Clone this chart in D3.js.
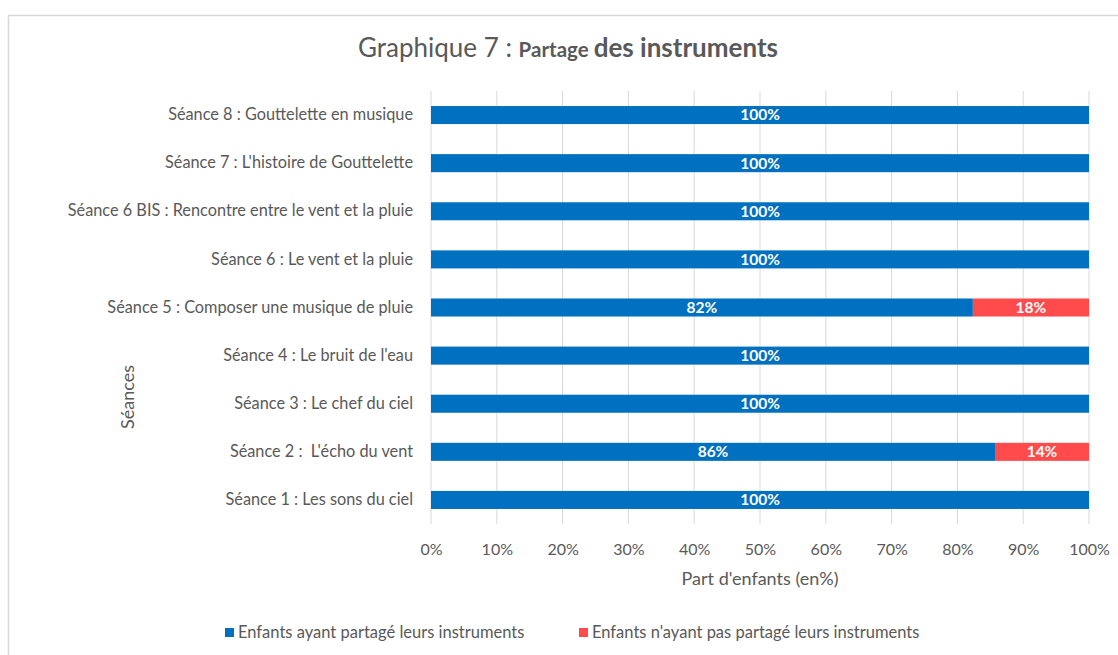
<!DOCTYPE html>
<html>
<head>
<meta charset="utf-8">
<script src="https://cdn.jsdelivr.net/npm/d3@7"></script>
<style>
  body { margin: 0; background: #fff; }
  text { font-family: Lato, Calibri, sans-serif; white-space: pre; }
</style>
</head>
<body>
<div id="chart"></div>
<script>
// données
const seances = [
  "Séance 1 : Les sons du ciel",
  "Séance 2 :  L'écho du vent",
  "Séance 3 : Le chef du ciel",
  "Séance 4 : Le bruit de l'eau",
  "Séance 5 : Composer une musique de pluie",
  "Séance 6 : Le vent et la pluie",
  "Séance 6 BIS : Rencontre entre le vent et la pluie",
  "Séance 7 : L'histoire de Gouttelette",
  "Séance 8 : Gouttelette en musique"
];
const partage = [100, 85.71, 100, 100, 82.35, 100, 100, 100, 100];
const pasPartage = [0, 14.29, 0, 0, 17.65, 0, 0, 0, 0];
const xTicks = [0, 10, 20, 30, 40, 50, 60, 70, 80, 90, 100];
const seriesNames = ["Enfants ayant partagé leurs instruments", "Enfants n'ayant pas partagé leurs instruments"];
const colors = ["#0070C0", "#FF4B4B"];

const W = 1118, H = 655;
const margin = { top: 91, right: 29, bottom: 131, left: 431 };

const svg = d3.select("#chart").append("svg")
  .attr("width", W)
  .attr("height", H);

// cadre
svg.append("rect")
  .attr("x", 8.5).attr("y", 15.5)
  .attr("width", W + 10).attr("height", H + 10)
  .attr("fill", "none")
  .attr("stroke", "#d9d9d9")
  .attr("stroke-width", 1.5);

const x = d3.scaleLinear()
  .domain([0, 100])
  .range([margin.left, W - margin.right]);

const y = d3.scaleBand()
  .domain(seances.slice().reverse())
  .range([margin.top, H - margin.bottom])
  .paddingInner(0.625)
  .paddingOuter(0.3125);

// grille verticale
svg.append("g")
  .selectAll("line")
  .data(xTicks)
  .enter()
  .append("line")
  .attr("x1", d => x(d)).attr("x2", d => x(d))
  .attr("y1", margin.top).attr("y2", H - margin.bottom)
  .attr("stroke", "#d9d9d9")
  .attr("stroke-width", 1);

// barres empilées
const rows = seances.map((s, i) => ({ s: s, a: partage[i], b: pasPartage[i] }));

const g = svg.append("g");
g.selectAll(".barA")
  .data(rows)
  .enter()
  .append("rect")
  .attr("x", x(0))
  .attr("y", d => y(d.s))
  .attr("width", d => x(d.a) - x(0))
  .attr("height", y.bandwidth())
  .attr("fill", colors[0]);

g.selectAll(".barB")
  .data(rows.filter(d => d.b > 0))
  .enter()
  .append("rect")
  .attr("x", d => x(d.a))
  .attr("y", d => y(d.s))
  .attr("width", d => x(d.a + d.b) - x(d.a))
  .attr("height", y.bandwidth())
  .attr("fill", colors[1]);

// étiquettes de données
g.selectAll(".labA")
  .data(rows)
  .enter()
  .append("text")
  .attr("x", d => (x(0) + x(d.a)) / 2)
  .attr("y", d => y(d.s) + y.bandwidth() / 2)
  .attr("dy", "0.35em")
  .attr("text-anchor", "middle")
  .style("font-size", "15.5px")
  .style("font-weight", "bold")
  .style("fill", "white")
  .text(d => Math.round(d.a) + "%");

g.selectAll(".labB")
  .data(rows.filter(d => d.b > 0))
  .enter()
  .append("text")
  .attr("x", d => (x(d.a) + x(d.a + d.b)) / 2)
  .attr("y", d => y(d.s) + y.bandwidth() / 2)
  .attr("dy", "0.35em")
  .attr("text-anchor", "middle")
  .style("font-size", "15.5px")
  .style("font-weight", "bold")
  .style("fill", "white")
  .text(d => Math.round(d.b) + "%");

// axe Y (catégories)
const yAxis = svg.append("g")
  .attr("transform", `translate(${margin.left - 18},0)`)
  .call(d3.axisLeft(y).tickSize(0).tickPadding(0));
yAxis.select(".domain").remove();
yAxis.selectAll("text")
  .style("font-size", "16.3px")
  .style("fill", "#595959");

// axe X
const xAxis = svg.append("g")
  .attr("transform", `translate(0,${H - margin.bottom + 25})`)
  .call(d3.axisBottom(x).tickValues(xTicks).tickSize(0).tickPadding(0).tickFormat(d => d + "%"));
xAxis.select(".domain").remove();
xAxis.selectAll("text")
  .style("font-size", "16px")
  .style("fill", "#595959")
  .attr("dy", "0.35em");

// titres des axes
svg.append("text")
  .attr("x", (x(0) + x(100)) / 2)
  .attr("y", 585)
  .attr("text-anchor", "middle")
  .style("font-size", "18px")
  .style("fill", "#595959")
  .text("Part d'enfants (en%)");

svg.append("text")
  .attr("transform", "rotate(-90)")
  .attr("x", -397)
  .attr("y", 134)
  .attr("text-anchor", "middle")
  .style("font-size", "18px")
  .style("fill", "#595959")
  .text("Séances");

// titre
const title = svg.append("text")
  .attr("x", 568)
  .attr("y", 57)
  .attr("text-anchor", "middle")
  .style("fill", "#595959");
title.append("tspan").style("font-size", "26px").text("Graphique 7 : ");
title.append("tspan").style("font-size", "20.5px").style("font-weight", "bold").text("Partage ");
title.append("tspan").style("font-size", "26px").style("font-weight", "bold").text("des instruments");

// légende
const legendX = [225, 579];
const legend = svg.append("g")
  .selectAll("g")
  .data(seriesNames)
  .enter()
  .append("g")
  .attr("transform", (d, i) => `translate(${legendX[i]},628)`);

legend.append("rect")
  .attr("width", 9).attr("height", 9)
  .attr("fill", (d, i) => colors[i]);

legend.append("text")
  .attr("x", 13)
  .attr("y", 4.5)
  .attr("dy", "0.35em")
  .style("font-size", "16.5px")
  .style("fill", "#595959")
  .text(d => d);
</script>
</body>
</html>
